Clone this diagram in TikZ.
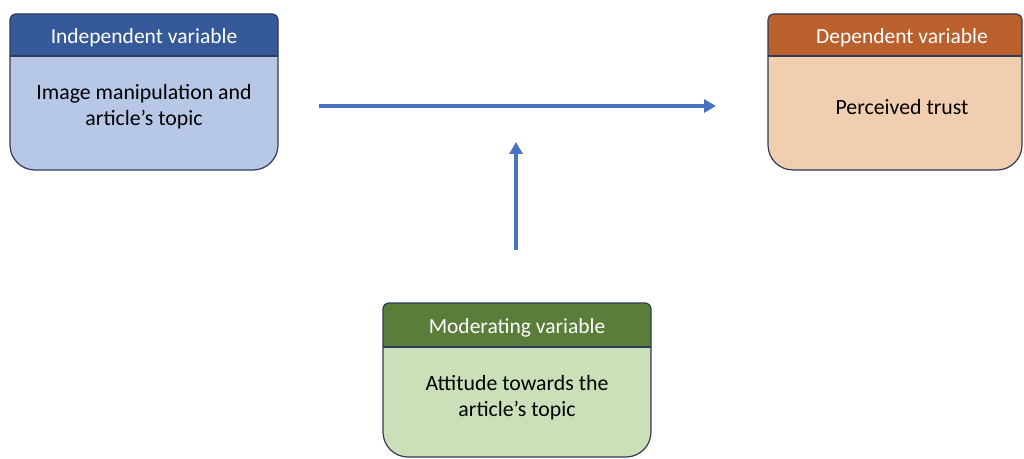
\documentclass[tikz,border=0pt]{standalone}
\usepackage{fontspec}
\setmainfont{Carlito}
\usetikzlibrary{arrows.meta}
\definecolor{indhead}{HTML}{36599A}
\definecolor{indbody}{HTML}{B7C7E6}
\definecolor{dephead}{HTML}{B9602C}
\definecolor{depbody}{HTML}{F2CEB0}
\definecolor{modhead}{HTML}{5A7E3A}
\definecolor{modbody}{HTML}{CBE0B8}
\definecolor{cardline}{HTML}{2F3B58}
\definecolor{arrowblue}{HTML}{4A72C2}
\tikzset{
  cardborder/.style={draw=cardline, line width=1.2pt},
  headtext/.style={text=white, font=\fontsize{21.5}{26}\selectfont, inner sep=0pt},
  bodytext/.style={text=black, font=\fontsize{21.8}{26}\selectfont, align=center, inner sep=0pt},
  flow/.style={draw=arrowblue, line width=3.4pt, -{Triangle[length=12pt,width=13pt]}}
}
% #1 left, #2 top, #3 right, #4 bottom, #5 header bottom, #6 header colour, #7 body colour
\newcommand{\varcard}[7]{%
  \fill[#7] (#1,#5) -- ({#1},{#2-6}) arc[start angle=180,end angle=90,radius=6pt]
     -- ({#3-6},#2) arc[start angle=90,end angle=0,radius=6pt]
     -- ({#3},{#4+25}) arc[start angle=0,end angle=-90,radius=25pt]
     -- ({#1+25},#4) arc[start angle=270,end angle=180,radius=25pt] -- cycle;
  \fill[#6] (#1,#5) -- ({#1},{#2-6}) arc[start angle=180,end angle=90,radius=6pt]
     -- ({#3-6},#2) arc[start angle=90,end angle=0,radius=6pt] -- (#3,#5) -- cycle;
  \draw[cardborder] (#1,#5) -- (#3,#5);
  \draw[cardborder] (#1,#5) -- ({#1},{#2-6}) arc[start angle=180,end angle=90,radius=6pt]
     -- ({#3-6},#2) arc[start angle=90,end angle=0,radius=6pt]
     -- ({#3},{#4+25}) arc[start angle=0,end angle=-90,radius=25pt]
     -- ({#1+25},#4) arc[start angle=270,end angle=180,radius=25pt] -- cycle;
}
\begin{document}
\begin{tikzpicture}[x=1pt,y=1pt]
\useasboundingbox (0,0) rectangle (1024,458);
% cards
\varcard{10}{444}{278}{288}{402}{indhead}{indbody}
\varcard{768}{444}{1022}{288}{402}{dephead}{depbody}
\varcard{383}{155}{651}{1}{111}{modhead}{modbody}
% texts
\node[headtext] (indh) at (144,420.5) {Independent variable};
\node[bodytext] (indb) at (144,351) {Image manipulation and\\article’s topic};
\node[headtext] (deph) at (902,420.5) {Dependent variable};
\node[bodytext] (depb) at (902,351) {Perceived trust};
\node[headtext] (modh) at (517,130.5) {Moderating variable};
\node[bodytext] (modb) at (517,60) {Attitude towards the\\article’s topic};
% connectors
\coordinate (hstart) at (319,352);
\coordinate (hend) at (716,352);
\coordinate (vstart) at (516,208);
\coordinate (vend) at (516,316);
\draw[flow] (hstart) -- (hend);
\draw[flow] (vstart) -- (vend);
\end{tikzpicture}
\end{document}
